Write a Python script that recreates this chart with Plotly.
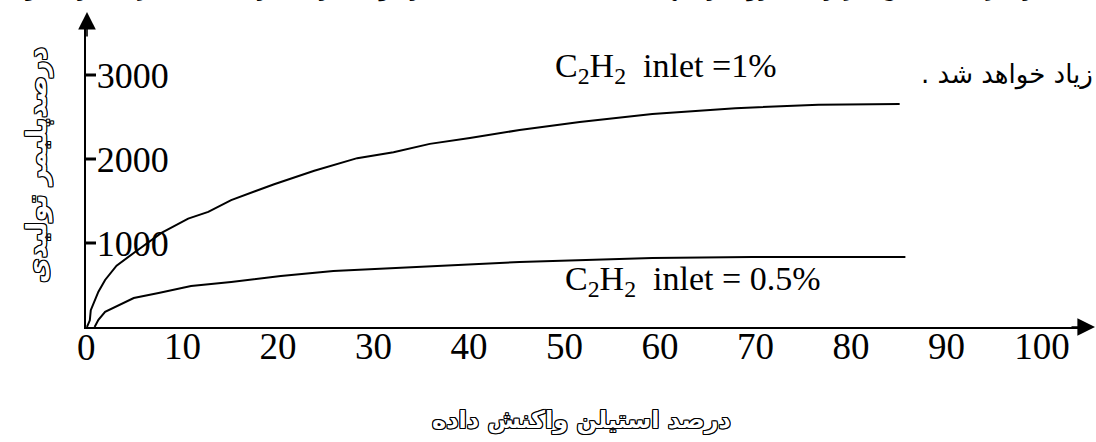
import plotly.graph_objects as go

# ---------------- data ----------------
reacted_c2h2_1 = [0, 0.3, 0.4, 0.7, 1.2, 1.9, 3.1, 5.0, 7.8, 10.6, 12.7, 15.1, 19.6,
                  23.8, 28.3, 32.1, 35.9, 40.1, 45.3, 51.6, 59.2, 67.9, 76.6, 85.1]
polymer_c2h2_1 = [0, 80, 200, 290, 420, 560, 730, 890, 1120, 1290, 1370, 1510, 1700,
                  1860, 2010, 2080, 2180, 2250, 2345, 2440, 2535, 2605, 2645, 2655]

reacted_c2h2_05 = [0.8, 1.2, 1.9, 4.9, 7.5, 10.9, 15.1, 20.3, 25.8, 35.9, 45.3, 59.2, 69.6, 85.7]
polymer_c2h2_05 = [0, 85, 180, 345, 405, 488, 536, 607, 667, 726, 774, 821, 833, 833]

x_tick_values = [10, 20, 30, 40, 50, 60, 70, 80, 90, 100]
x_origin_label = "0"
y_tick_values = [1000, 2000, 3000]

label_1 = "C<sub>2</sub>H<sub>2</sub>  inlet =1%"
label_05 = "C<sub>2</sub>H<sub>2</sub>  inlet = 0.5%"
x_title = "درصد استیلن واکنش داده"
y_title = "درصدپلیمر تولیدی"
side_text = "زیاد خواهد شد ."
top_text = ("ن فشار جزیی استیلن اثر زیادی روی زمانهای فعالیت کاتالیست ندارد "
            "ولی در فشارهای بالا میزان بازده تولید")

RLE, PDF = "\u202B", "\u202C"

# ---------------- layout geometry ----------------
W, H = 1096, 442
L, R, T, B = 86, 6, 20, 115
PW, PH = W - L - R, H - T - B
PX_PER_X = 9.55
X_MIN = -0.1
X_MAX = X_MIN + PW / PX_PER_X
Y_MAX = PH / 0.084


def px(x):
    return (x - L) / PW


def py(y):
    return (H - B - y) / PH


serif = "Liberation Serif, Times New Roman, serif"
arabic = "DejaVu Sans, sans-serif"
outline = ("-1px -1px 0 #000, 1px -1px 0 #000, -1px 1px 0 #000, 1px 1px 0 #000, "
           "0 -1px 0 #000, 0 1px 0 #000, -1px 0 0 #000, 1px 0 0 #000")

fig = go.Figure()
fig.add_trace(go.Scatter(x=reacted_c2h2_1, y=polymer_c2h2_1, mode="lines",
                         line=dict(color="black", width=2), showlegend=False,
                         hoverinfo="skip"))
fig.add_trace(go.Scatter(x=reacted_c2h2_05, y=polymer_c2h2_05, mode="lines",
                         line=dict(color="black", width=2), showlegend=False,
                         hoverinfo="skip"))

# short inside tick marks on the y axis, built from the tick values
tick_x, tick_y = [], []
for v in y_tick_values:
    tick_x += [X_MIN, X_MIN + 10 / PX_PER_X, None]
    tick_y += [v, v, None]
fig.add_trace(go.Scatter(x=tick_x, y=tick_y, mode="lines",
                         line=dict(color="black", width=3), showlegend=False,
                         hoverinfo="skip", cliponaxis=False))

annotations = [
    # axis arrows
    dict(x=px(1096), y=0, xref="paper", yref="paper", text="", showarrow=True,
         arrowhead=2, arrowsize=2.2, arrowwidth=1.6, arrowcolor="black", ax=-26, ay=0),
    dict(x=px(87), y=py(12), xref="paper", yref="paper", text="", showarrow=True,
         arrowhead=2, arrowsize=2.2, arrowwidth=1.6, arrowcolor="black", ax=0, ay=26),
    # origin tick label
    dict(x=0, y=py(347), xref="x", yref="paper", text=x_origin_label, showarrow=False,
         xanchor="center", yanchor="middle", font=dict(family=serif, size=37, color="black")),
    # curve labels
    dict(x=px(553), y=py(68), xref="paper", yref="paper", text=label_1, showarrow=False,
         xanchor="left", yanchor="middle", font=dict(family=serif, size=34, color="black")),
    dict(x=px(563), y=py(281), xref="paper", yref="paper", text=label_05, showarrow=False,
         xanchor="left", yanchor="middle", font=dict(family=serif, size=34, color="black")),
    # surrounding Persian text
    dict(x=px(1095), y=py(74), xref="paper", yref="paper", text=RLE + side_text + PDF,
         showarrow=False, xanchor="right", yanchor="middle",
         font=dict(family=arabic, size=26, color="black")),
    dict(x=px(1106), y=py(-13), xref="paper", yref="paper", text=RLE + top_text + PDF,
         showarrow=False, xanchor="right", yanchor="middle",
         font=dict(family=arabic, size=25, color="black")),
    # axis titles (outlined)
    dict(x=px(581), y=py(420), xref="paper", yref="paper", text=x_title, showarrow=False,
         xanchor="center", yanchor="middle",
         font=dict(family=arabic, size=24, color="white", weight="bold", shadow=outline)),
    dict(x=px(37), y=py(165), xref="paper", yref="paper", text=y_title, showarrow=False,
         textangle=-90, xanchor="center", yanchor="middle",
         font=dict(family=arabic, size=27, color="white", weight="bold", shadow=outline)),
]

fig.update_layout(
    template="none",
    width=W, height=H,
    margin=dict(l=L, r=R, t=T, b=B, pad=0, autoexpand=False),
    paper_bgcolor="white", plot_bgcolor="white",
    showlegend=False,
    annotations=annotations,
    xaxis=dict(range=[X_MIN, X_MAX], showline=True, linecolor="black", linewidth=2,
               showgrid=False, zeroline=False, ticks="", tickvals=x_tick_values,
               ticklabelstandoff=-14, automargin=False,
               tickfont=dict(family=serif, size=37, color="black"), fixedrange=True),
    yaxis=dict(range=[0, Y_MAX], showline=True, linecolor="black", linewidth=2,
               showgrid=False, zeroline=False, ticks="inside", ticklen=10, tickwidth=1,
               tickcolor="rgba(0,0,0,0)", tickvals=y_tick_values, ticklabelstandoff=5,
               ticklabelposition="inside", automargin=False,
               tickfont=dict(family=serif, size=36, color="black"), fixedrange=True),
)

fig.write_html(
    "out.html",
    config={"displayModeBar": False, "staticPlot": True},
    post_script="document.body.style.margin='0';document.body.style.overflow='hidden';",
)
